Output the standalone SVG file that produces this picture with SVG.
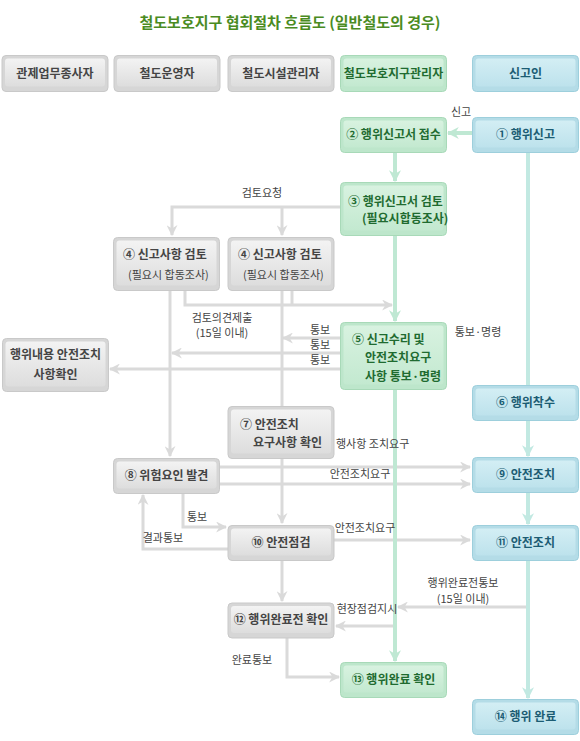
<svg xmlns="http://www.w3.org/2000/svg" width="580" height="741" viewBox="0 0 580 741">
<defs>
<style>
text{font-family:"Noto Sans CJK KR","Noto Sans",sans-serif;}
.title{font-size:15px;font-weight:700;fill:#4a8b22;text-anchor:middle;}
.bt{font-size:12px;font-weight:700;}
.g .bt{fill:#444;}
.gr .bt{fill:#1f6b30;}
.bl .bt{fill:#1b5c73;}
.sub{font-size:11px;font-weight:400;}
.lb{font-size:11px;fill:#444;}
.c{text-anchor:middle;}
.og{fill:#d6d6d6;stroke:#c9c9c9;stroke-width:1;}
.ig{fill:url(#gg);}
.ogr{fill:#bde6cb;stroke:#a8d9b8;stroke-width:1;}
.igr{fill:url(#ggr);}
.obl{fill:#b4dce7;stroke:#9dcfdc;stroke-width:1;}
.ibl{fill:url(#gbl);}
.cg{fill:none;stroke:#dadada;stroke-width:3;}
.cgr{fill:none;stroke:#bfe8d3;stroke-width:4;}
.cbl{fill:none;stroke:#c2e9e2;stroke-width:4;}
</style>
<linearGradient id="gg" x1="0" y1="0" x2="0" y2="1"><stop offset="0" stop-color="#f3f3f3"/><stop offset="1" stop-color="#dddddd"/></linearGradient>
<linearGradient id="ggr" x1="0" y1="0" x2="0" y2="1"><stop offset="0" stop-color="#d8f2e0"/><stop offset="1" stop-color="#c3e9d0"/></linearGradient>
<linearGradient id="gbl" x1="0" y1="0" x2="0" y2="1"><stop offset="0" stop-color="#d3eef4"/><stop offset="1" stop-color="#bde2ec"/></linearGradient>
<marker id="ag" viewBox="0 0 10 10" refX="9" refY="5" markerWidth="11" markerHeight="11" markerUnits="userSpaceOnUse" orient="auto"><path d="M0,0 L10,5 L0,10 L3,5 z" fill="#dadada"/></marker>
<marker id="agr" viewBox="0 0 10 10" refX="9" refY="5" markerWidth="12" markerHeight="12" markerUnits="userSpaceOnUse" orient="auto"><path d="M0,0 L10,5 L0,10 L3,5 z" fill="#bfe8d3"/></marker>
<marker id="abl" viewBox="0 0 10 10" refX="9" refY="5" markerWidth="12" markerHeight="12" markerUnits="userSpaceOnUse" orient="auto"><path d="M0,0 L10,5 L0,10 L3,5 z" fill="#c2e9e2"/></marker>
</defs>
<rect width="580" height="741" fill="#ffffff"/>
<text class="title" x="290" y="28">철도보호지구 협회절차 흐름도 (일반철도의 경우)</text>

<g id="headers">
<g id="h1" class="g"><rect class="og" x="2" y="55.5" width="106" height="36" rx="4"/><rect class="ig" x="5" y="58.5" width="100" height="28" rx="3"/><text class="bt c" x="55" y="78">관제업무종사자</text></g>
<g id="h2" class="g"><rect class="og" x="114" y="55.5" width="106" height="36" rx="4"/><rect class="ig" x="117" y="58.5" width="100" height="28" rx="3"/><text class="bt c" x="167" y="78">철도운영자</text></g>
<g id="h3" class="g"><rect class="og" x="228" y="55.5" width="106" height="36" rx="4"/><rect class="ig" x="231" y="58.5" width="100" height="28" rx="3"/><text class="bt c" x="281" y="78">철도시설관리자</text></g>
<g id="h4" class="gr"><rect class="ogr" x="340.5" y="55.5" width="106" height="36" rx="4"/><rect class="igr" x="343.5" y="58.5" width="100" height="28" rx="3"/><text class="bt c" x="393.5" y="78">철도보호지구관리자</text></g>
<g id="h5" class="bl"><rect class="obl" x="472.5" y="55.5" width="106" height="36" rx="4"/><rect class="ibl" x="475.5" y="58.5" width="100" height="28" rx="3"/><text class="bt c" x="525.5" y="78">신고인</text></g>
</g>

<g id="connectors">
<path class="cg" d="M340,207 H172 V235" marker-end="url(#ag)"/>
<path class="cg" d="M282,207 V235" marker-end="url(#ag)"/>
<path class="cg" d="M170,290 V456" marker-end="url(#ag)"/>
<path class="cg" d="M282,290 V523" marker-end="url(#ag)"/>
<path class="cg" d="M185,290 V305 H392" marker-end="url(#ag)"/>
<path class="cg" d="M292,290 V305"/>
<path class="cg" d="M340,338 H283" marker-end="url(#ag)"/>
<path class="cg" d="M340,353 H172" marker-end="url(#ag)"/>
<path class="cg" d="M340,369 H110" marker-end="url(#ag)"/>
<path class="cg" d="M220,467 H470" marker-end="url(#ag)"/>
<path class="cg" d="M220,484 H470" marker-end="url(#ag)"/>
<path class="cg" d="M183,493 V527 H226" marker-end="url(#ag)"/>
<path class="cg" d="M228,549 H143 V495" marker-end="url(#ag)"/>
<path class="cg" d="M334,540 H470" marker-end="url(#ag)"/>
<path class="cg" d="M282,560 V601" marker-end="url(#ag)"/>
<path class="cg" d="M528,607 H398" marker-end="url(#ag)"/>
<path class="cg" d="M395,626 H336" marker-end="url(#ag)"/>
<path class="cg" d="M287,638 V677 H339" marker-end="url(#ag)"/>
<path class="cgr" d="M472,133 H448" marker-end="url(#agr)"/>
<path class="cgr" d="M395,152 V181" marker-end="url(#agr)"/>
<path class="cgr" d="M395,235 V321" marker-end="url(#agr)"/>
<path class="cgr" d="M395,390 V661" marker-end="url(#agr)"/>
<path class="cbl" d="M528,152 V386"/>
<path class="cbl" d="M528,420 V456" marker-end="url(#abl)"/>
<path class="cbl" d="M528,492 V524" marker-end="url(#abl)"/>
<path class="cbl" d="M528,560 V698" marker-end="url(#abl)"/>
<text class="lb c" x="461" y="116">신고</text>
<text class="lb c" x="262" y="197">검토요청</text>
<text class="lb c" x="222" y="322">검토의견제출</text>
<text class="lb c" x="222" y="337">(15일 이내)</text>
<text class="lb c" x="320" y="334">통보</text>
<text class="lb c" x="320" y="349">통보</text>
<text class="lb c" x="320" y="364">통보</text>
<text class="lb c" x="478" y="336">통보·명령</text>
<text class="lb" x="336" y="448">행사항 조치요구</text>
<text class="lb c" x="360" y="478">안전조치요구</text>
<text class="lb c" x="365" y="532">안전조치요구</text>
<text class="lb c" x="197" y="521">통보</text>
<text class="lb c" x="163" y="542">결과통보</text>
<text class="lb c" x="463" y="587">행위완료전통보</text>
<text class="lb c" x="463" y="603">(15일 이내)</text>
<text class="lb c" x="367" y="613">현장점검지시</text>
<text class="lb c" x="252" y="664">완료통보</text>
</g>

<g id="n2" class="gr"><rect class="ogr" x="340.5" y="117.5" width="106" height="35" rx="4"/><rect class="igr" x="343.5" y="120.5" width="100" height="27" rx="3"/><text class="bt c" x="393.5" y="139">② 행위신고서 접수</text></g>
<g id="n1" class="bl"><rect class="obl" x="472.5" y="117.5" width="106" height="35" rx="4"/><rect class="ibl" x="475.5" y="120.5" width="100" height="27" rx="3"/><text class="bt c" x="525.5" y="139">① 행위신고</text></g>
<g id="n3" class="gr"><rect class="ogr" x="340.5" y="182.5" width="106" height="53" rx="4"/><rect class="igr" x="343.5" y="185.5" width="100" height="45" rx="3"/><text class="bt" x="348" y="206">③ 행위신고서 검토</text><text class="bt" x="362" y="223">(필요시합동조사)</text></g>
<g id="n4a" class="g"><rect class="og" x="113.5" y="237.5" width="106" height="53" rx="4"/><rect class="ig" x="116.5" y="240.5" width="100" height="45" rx="3"/><text class="bt" x="123" y="259">④ 신고사항 검토</text><text class="bt sub" x="128" y="279">(필요시 합동조사)</text></g>
<g id="n4b" class="g"><rect class="og" x="228" y="237.5" width="106" height="53" rx="4"/><rect class="ig" x="231" y="240.5" width="100" height="45" rx="3"/><text class="bt" x="238" y="259">④ 신고사항 검토</text><text class="bt sub" x="243" y="279">(필요시 합동조사)</text></g>
<g id="nx" class="g"><rect class="og" x="2.5" y="338.5" width="106" height="53" rx="4"/><rect class="ig" x="5.5" y="341.5" width="100" height="45" rx="3"/><text class="bt c" x="55.5" y="359">행위내용 안전조치</text><text class="bt c" x="55.5" y="379">사항확인</text></g>
<g id="n5" class="gr"><rect class="ogr" x="340.5" y="322.5" width="106" height="67" rx="4"/><rect class="igr" x="343.5" y="325.5" width="100" height="59" rx="3"/><text class="bt" x="352" y="344">⑤ 신고수리 및</text><text class="bt" x="365" y="362">안전조치요구</text><text class="bt" x="365" y="381">사항 통보·명령</text></g>
<g id="n6" class="bl"><rect class="obl" x="472.5" y="385.5" width="106" height="35" rx="4"/><rect class="ibl" x="475.5" y="388.5" width="100" height="27" rx="3"/><text class="bt c" x="525.5" y="407">⑥ 행위착수</text></g>
<g id="n7" class="g"><rect class="og" x="228" y="406.5" width="106" height="52" rx="4"/><rect class="ig" x="231" y="409.5" width="100" height="44" rx="3"/><text class="bt" x="240" y="429">⑦ 안전조치</text><text class="bt" x="253" y="447">요구사항 확인</text></g>
<g id="n8" class="g"><rect class="og" x="113.5" y="458.5" width="106" height="35" rx="4"/><rect class="ig" x="116.5" y="461.5" width="100" height="27" rx="3"/><text class="bt c" x="166.5" y="480">⑧ 위험요인 발견</text></g>
<g id="n9" class="bl"><rect class="obl" x="472.5" y="457.5" width="106" height="35" rx="4"/><rect class="ibl" x="475.5" y="460.5" width="100" height="27" rx="3"/><text class="bt c" x="525.5" y="479">⑨ 안전조치</text></g>
<g id="n10" class="g"><rect class="og" x="228" y="525.5" width="106" height="35" rx="4"/><rect class="ig" x="231" y="528.5" width="100" height="27" rx="3"/><text class="bt c" x="281" y="547">⑩ 안전점검</text></g>
<g id="n11" class="bl"><rect class="obl" x="472.5" y="525.5" width="106" height="35" rx="4"/><rect class="ibl" x="475.5" y="528.5" width="100" height="27" rx="3"/><text class="bt c" x="525.5" y="547">⑪ 안전조치</text></g>
<g id="n12" class="g"><rect class="og" x="228" y="603" width="106" height="35" rx="4"/><rect class="ig" x="231" y="606" width="100" height="27" rx="3"/><text class="bt c" x="281" y="624">⑫ 행위완료전 확인</text></g>
<g id="n13" class="gr"><rect class="ogr" x="340.5" y="662.5" width="106" height="35" rx="4"/><rect class="igr" x="343.5" y="665.5" width="100" height="27" rx="3"/><text class="bt c" x="393.5" y="684">⑬ 행위완료 확인</text></g>
<g id="n14" class="bl"><rect class="obl" x="472.5" y="699.5" width="106" height="35" rx="4"/><rect class="ibl" x="475.5" y="702.5" width="100" height="27" rx="3"/><text class="bt c" x="525.5" y="721">⑭ 행위 완료</text></g>
</svg>
